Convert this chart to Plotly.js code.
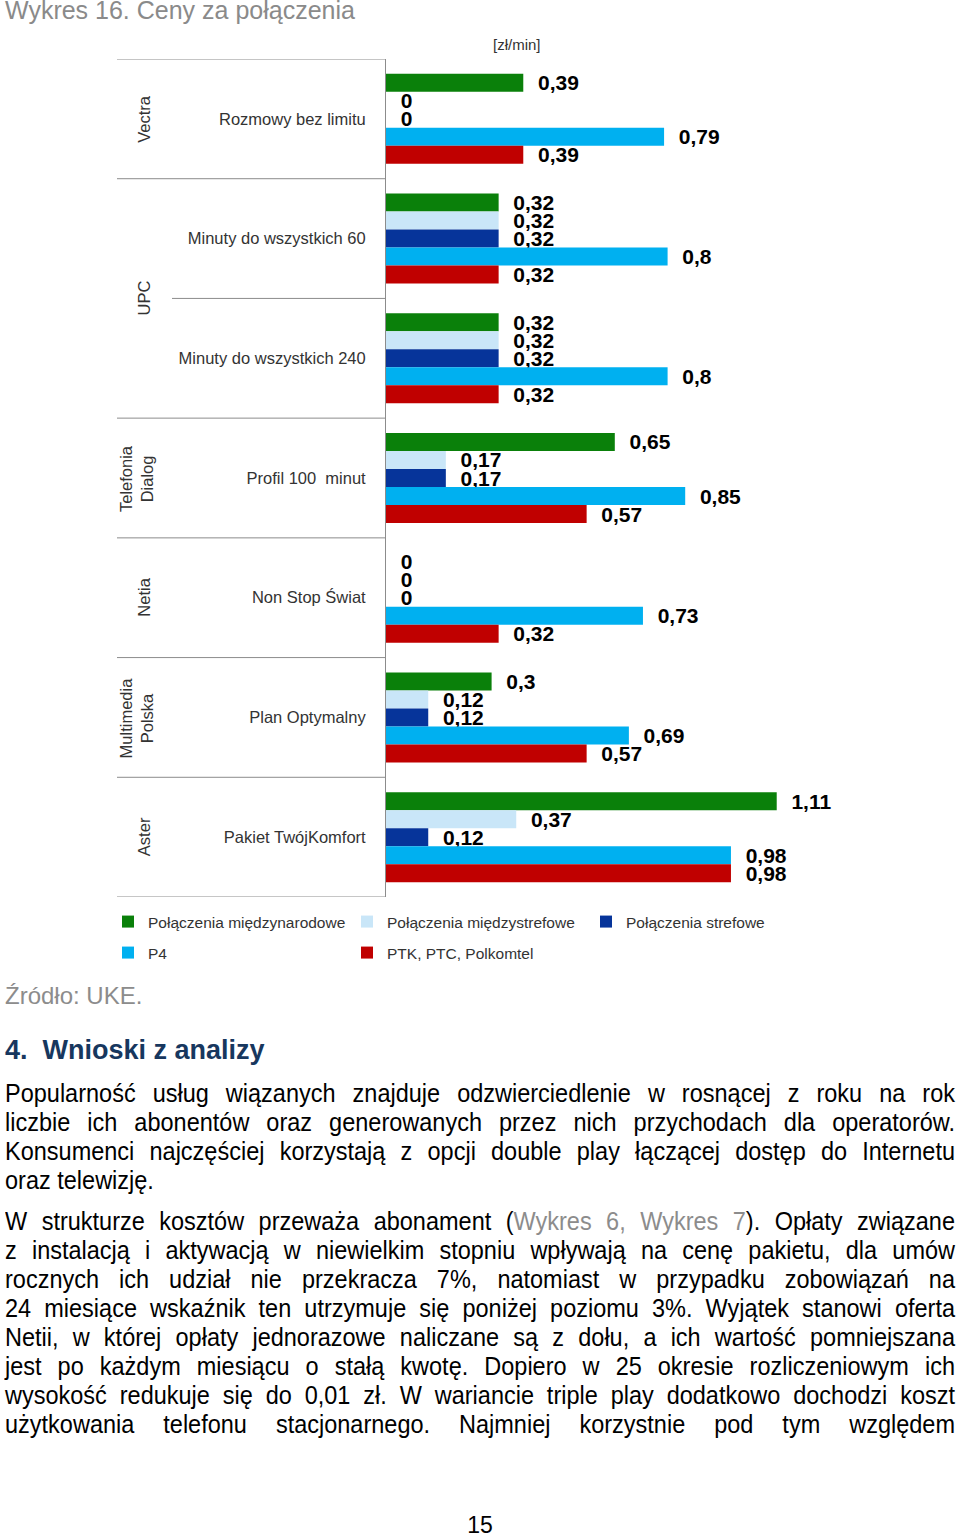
<!DOCTYPE html>
<html><head><meta charset="utf-8">
<script src="https://cdn.plot.ly/plotly-3.0.1.min.js"></script>
<style>
body{margin:0;background:#fff;width:960px;height:1536px;position:relative;overflow:hidden;font-family:"Liberation Sans",Arial,sans-serif;}
#chart{position:absolute;left:0;top:0;width:960px;height:980px;}
.ln{position:absolute;left:5px;width:950px;font-size:23.5px;line-height:29px;height:29px;color:#000;white-space:nowrap;transform:scaleY(1.06);transform-origin:50% 50%;}
.j{text-align:justify;text-align-last:justify;}
.gray{color:#8c8c8c;}
</style></head>
<body>
<div id="chart"></div>
<div class="ln gray" style="top:981px;font-size:24px;transform:none;">Źródło: UKE.</div>
<div class="ln" style="top:1036px;font-size:27px;font-weight:bold;color:#17375e;transform:none;">4.&nbsp;&nbsp;Wnioski z analizy</div>
<div class="ln j" style="top:1080px;">Popularność usług wiązanych znajduje odzwierciedlenie w rosnącej z roku na rok</div>
<div class="ln j" style="top:1109px;">liczbie ich abonentów oraz generowanych przez nich przychodach dla operatorów.</div>
<div class="ln j" style="top:1138px;">Konsumenci najczęściej korzystają z opcji double play łączącej dostęp do Internetu</div>
<div class="ln" style="top:1167px;">oraz telewizję.</div>
<div class="ln j" style="top:1208px;">W strukturze kosztów przeważa abonament (<span class="gray">Wykres 6, Wykres 7</span>). Opłaty związane</div>
<div class="ln j" style="top:1237px;">z instalacją i aktywacją w niewielkim stopniu wpływają na cenę pakietu, dla umów</div>
<div class="ln j" style="top:1266px;">rocznych ich udział nie przekracza 7%, natomiast w przypadku zobowiązań na</div>
<div class="ln j" style="top:1295px;">24 miesiące wskaźnik ten utrzymuje się poniżej poziomu 3%. Wyjątek stanowi oferta</div>
<div class="ln j" style="top:1324px;">Netii, w której opłaty jednorazowe naliczane są z dołu, a ich wartość pomniejszana</div>
<div class="ln j" style="top:1353px;">jest po każdym miesiącu o stałą kwotę. Dopiero w 25 okresie rozliczeniowym ich</div>
<div class="ln j" style="top:1382px;">wysokość redukuje się do 0,01 zł. W wariancie triple play dodatkowo dochodzi koszt</div>
<div class="ln j" style="top:1411px;">użytkowania telefonu stacjonarnego. Najmniej korzystnie pod tym względem</div>
<div class="ln" style="top:1511px;left:0;width:960px;text-align:center;font-size:23px;transform:none;">15</div>
<script>
// ---- data ----
var groups = ["Vectra", "UPC", "Telefonia<br>Dialog", "Netia", "Multimedia<br>Polska", "Aster"];
var offers = ["Rozmowy bez limitu", "Minuty do wszystkich 60", "Minuty do wszystkich 240",
              "Profil 100\u00a0 minut", "Non Stop Świat", "Plan Optymalny", "Pakiet TwójKomfort"];
var offerGroup = [0, 1, 1, 2, 3, 4, 5];
var seriesNames = ["Połączenia międzynarodowe", "Połączenia międzystrefowe", "Połączenia strefowe",
                   "P4", "PTK, PTC, Polkomtel"];
var intl      = [0.39, 0.32, 0.32, 0.65, 0,    0.30, 1.11];
var interzone = [0,    0.32, 0.32, 0.17, 0,    0.12, 0.37];
var zone      = [0,    0.32, 0.32, 0.17, 0,    0.12, 0.12];
var p4        = [0.79, 0.80, 0.80, 0.85, 0.73, 0.69, 0.98];
var ptk       = [0.39, 0.32, 0.32, 0.57, 0.32, 0.57, 0.98];
var seriesValues = [intl, interzone, zone, p4, ptk];
var seriesColors = ["#0a800a", "#c9e6f8", "#06349a", "#00b0f0", "#c00000"];
var unitLabel = "[zł/min]";
var chartTitle = "Wykres 16. Ceny za połączenia";

// ---- geometry ----
var W = 960, H = 980;
var L = 386, R = 850, T = 59, B = 897;
var pxPerUnit = 352;
var xMax = (R - L) / pxPerUnit;
function xp(px) { return (px - L) / (R - L); }
function yp(py) { return (B - py) / (B - T); }
var FONT = '"Liberation Sans", Arial, sans-serif';

var traces = seriesValues.map(function (vals, k) {
  return {
    type: 'bar', orientation: 'h', name: seriesNames[k],
    x: vals, y: offers,
    marker: {color: seriesColors[k], line: {width: 0}},
    text: vals.map(function (v) { return String(v).replace('.', ','); }),
    texttemplate: '\u00a0\u00a0%{text}',
    textposition: 'outside', cliponaxis: false, constraintext: 'none',
    textfont: {family: FONT, size: 21, color: '#000', weight: 700},
    hoverinfo: 'x+name',
    legend: k < 3 ? 'legend' : 'legend2'
  };
});

var shapes = [];
var lineColor = '#8c8c8c';
shapes.push({type: 'line', xref: 'paper', yref: 'y', x0: xp(117), x1: 0, y0: -0.5, y1: -0.5,
             line: {color: lineColor, width: 1}});
for (var i = 0; i < offers.length; i++) {
  var last = (i === offers.length - 1);
  var full = last || offerGroup[i + 1] !== offerGroup[i];
  shapes.push({type: 'line', xref: 'paper', yref: 'y', x0: full ? xp(117) : xp(172), x1: 0,
               y0: i + 0.5, y1: i + 0.5, line: {color: lineColor, width: 1}});
}

var annotations = groups.map(function (g, gi) {
  var idx = [];
  offerGroup.forEach(function (og, i) { if (og === gi) idx.push(i); });
  var c = idx.reduce(function (a, b) { return a + b; }, 0) / idx.length;
  return {xref: 'paper', yref: 'y', x: xp(g.indexOf('<br>') >= 0 ? 136 : 144), y: c,
          text: g, textangle: -90, showarrow: false, xanchor: 'center', yanchor: 'middle',
          font: {family: FONT, size: 16.5, color: '#333'}};
});
annotations.push({xref: 'paper', yref: 'paper', x: xp(517), y: yp(45), text: unitLabel,
                  showarrow: false, xanchor: 'center', yanchor: 'middle',
                  font: {family: FONT, size: 15, color: '#333'}});

var legendBase = {orientation: 'h', xanchor: 'left', yanchor: 'top', x: xp(108),
                  entrywidth: 194, bgcolor: 'rgba(0,0,0,0)',
                  font: {family: FONT, size: 15.5, color: '#333'}};
var layout = {
  width: W, height: H,
  margin: {l: L, r: W - R, t: T, b: H - B, pad: 0, autoexpand: false},
  paper_bgcolor: '#fff', plot_bgcolor: '#fff',
  font: {family: FONT, color: '#333'},
  title: {text: chartTitle, x: 5 / W, xanchor: 'left', y: 1 - 10 / H, yanchor: 'middle',
          font: {family: FONT, size: 25, color: '#8a8a8a'}},
  barmode: 'group', bargap: 0.248, bargroupgap: 0,
  xaxis: {range: [0, xMax], showgrid: false, zeroline: false, showticklabels: false,
          showline: false, ticks: ''},
  yaxis: {type: 'category', range: [offers.length - 0.5, -0.5], showgrid: false, zeroline: false,
          showline: true, linecolor: lineColor, linewidth: 1, ticks: '', ticklabelstandoff: 16,
          tickfont: {family: FONT, size: 16.5, color: '#333'}},
  shapes: shapes, annotations: annotations,
  legend: Object.assign({}, legendBase, {y: yp(905)}),
  legend2: Object.assign({}, legendBase, {y: yp(936)}),
  hovermode: 'closest'
};

Plotly.newPlot('chart', traces, layout, {displayModeBar: false, staticPlot: false});
</script>
</body></html>
